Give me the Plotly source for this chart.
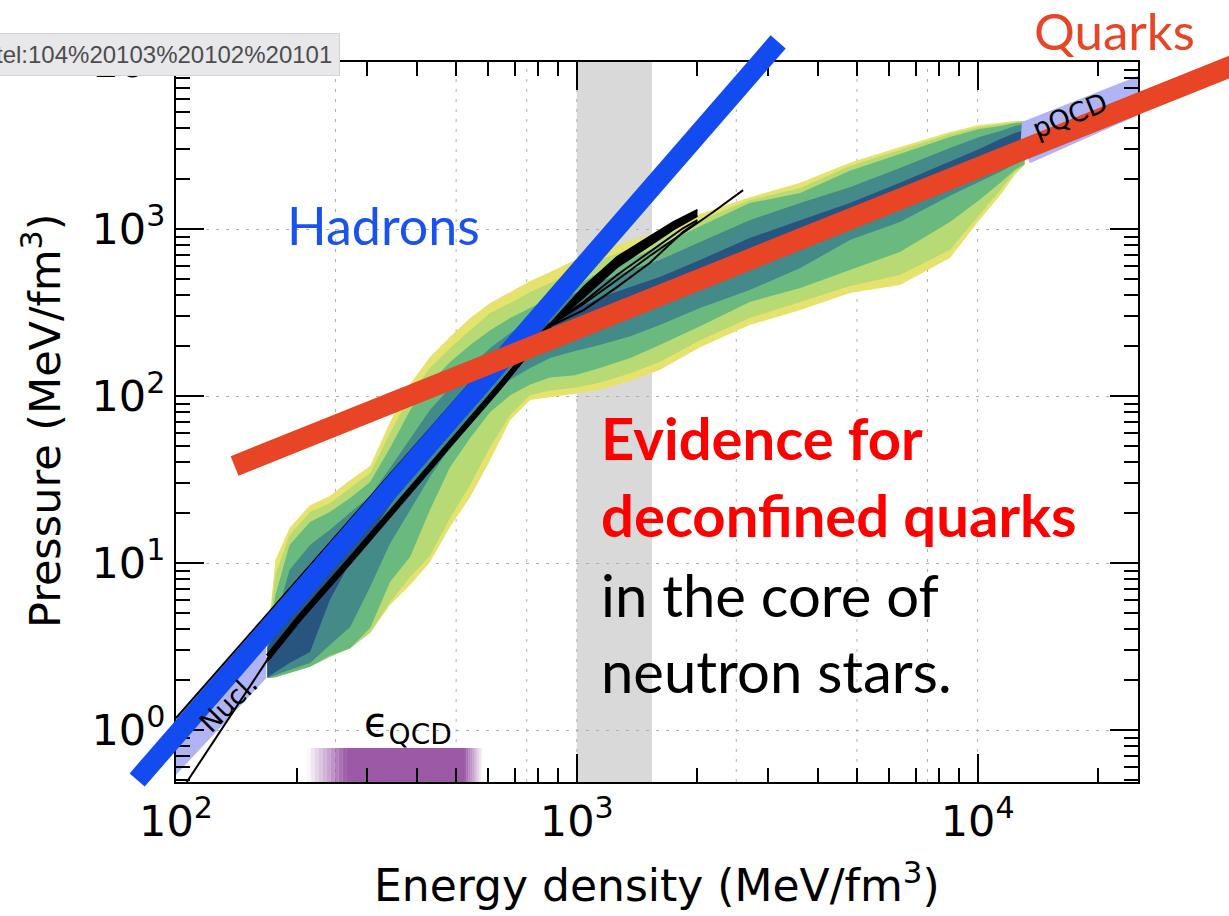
import math
import plotly.graph_objects as go

W, H = 1229, 916

# ---- data (energy density and pressure in MeV/fm^3) ----
eps_grid = [169, 177, 192, 216, 242, 272, 305, 342, 384, 430, 483, 542, 608, 682, 765,
            858, 990, 1140, 1360, 1610, 2030, 2700, 3610, 4800, 6400, 8530, 10100, 11400, 12400, 13100]

p_yellow_hi = [3.46, 10.4, 16.2, 22.2, 25.2, 31.4, 38.1, 69.9, 118, 171, 226, 293, 361, 420, 488,
               553, 652, 749, 847, 959, 1230, 1550, 1890, 2490, 3100, 3810, 4200, 4310, 4430, 4430]
p_lgreen_hi = [3.37, 8.47, 14.7, 20.2, 22.8, 28.2, 34.6, 60.1, 101, 147, 194, 248, 314, 361, 419,
               475, 553, 652, 759, 883, 1130, 1490, 1760, 2380, 2970, 3710, 4080, 4250, 4370, 4430]
p_green_hi = [3.27, 6.43, 12.8, 17.6, 20.2, 24.5, 30.5, 48.8, 82.5, 120, 160, 202, 248, 293, 336,
              387, 449, 553, 661, 791, 1040, 1430, 1640, 2230, 2810, 3560, 3970, 4140, 4310, 4370]
p_teal_hi = [3.19, 4.56, 9.08, 12.8, 15.8, 20.0, 25.2, 37.1, 56.0, 82.5, 112, 149, 194, 238, 285,
             346, 414, 482, 568, 652, 836, 1130, 1430, 1780, 2320, 3060, 3560, 3860, 4140, 4250]
p_dblue_hi = [3.09, 3.86, 6.70, 9.59, 12.3, 16.7, 22.0, 30.5, 43.2, 62.6, 86.0, 114, 149, 189, 228,
              277, 327, 387, 449, 516, 652, 883, 1130, 1430, 1890, 2520, 3010, 3460, 3760, 3920]

p_dblue_lo = [2.07, 2.23, 2.52, 2.93, 6.00, 10.1, 14.7, 22.2, 32.7, 49.5, 71.8, 97.2, 125, 157, 189,
              216, 248, 277, 318, 366, 443, 584, 749, 1010, 1340, 1830, 2200, 2520, 2740, 2890]
p_teal_lo = [2.05, 2.13, 2.29, 2.52, 3.23, 4.14, 7.18, 13.1, 20.8, 32.7, 49.5, 71.8, 98.6, 125, 147,
             169, 186, 202, 228, 266, 336, 431, 584, 859, 1100, 1580, 1910, 2200, 2450, 2590]
p_green_lo = [2.05, 2.07, 2.20, 2.39, 2.78, 3.09, 4.08, 7.69, 10.9, 20.8, 37.6, 56.0, 80.3, 101, 117,
              129, 133, 147, 169, 202, 262, 366, 443, 568, 729, 1100, 1490, 1890, 2260, 2450]
p_lgreen_lo = [2.05, 2.07, 2.20, 2.39, 2.74, 3.09, 3.81, 5.84, 8.24, 11.0, 18.6, 29.4, 49.5, 76.9, 101,
               108, 112, 120, 137, 160, 216, 293, 366, 455, 530, 749, 1210, 1710, 2200, 2420]
p_yellow_lo = [2.05, 2.07, 2.20, 2.39, 2.74, 3.09, 3.81, 5.60, 7.38, 10.1, 16.5, 24.8, 41.4, 71.8, 94.6,
               98.6, 103, 109, 123, 143, 196, 266, 327, 414, 462, 670, 1130, 1600, 2110, 2420]

# low-density nuclear band and high-density pQCD band (polygons)
nucl_eps = [91.2, 168, 168, 91.2]
nucl_p = [0.946, 4.69, 2.05, 0.425]
pqcd_eps = [12900, 26200, 26200, 13500, 12800]
pqcd_p = [4370, 8590, 5020, 2480, 3270]

# individual equations of state (black curves)
eosA_eps = [100, 796]
eosA_p = [1.18, 341]
eosB_eps = [104, 131, 169]
eosB_p = [0.449, 1.04, 2.63]
trunk_eps = [169, 204, 272, 362, 483, 644, 858]
trunk_p = [2.78, 4.88, 10.7, 23.8, 53.0, 118, 270]
trunk2_p = [2.62, 4.60, 10.1, 22.6, 50.4, 112, 262]
branch_eps = [858, 1040, 1260, 1520, 1740, 2000]
branch1_p = [270, 449, 680, 895, 1100, 1300]
branch2_p = [262, 390, 590, 800, 990, 1200]
branch3_eps = [858, 1040, 1260, 1520, 1840, 2000]
branch3_p = [266, 366, 530, 729, 1010, 1130]
branch4_p = [262, 327, 449, 626, 959, 1100]
branch5_eps = [858, 1040, 1260, 1520, 1840, 2190, 2600]
branch5_p = [266, 356, 495, 689, 946, 1265, 1710]

# hadronic and quark-matter trends (thick guide lines)
hadron_eps = [80, 3180]
hadron_p = [0.502, 13200]
quark_eps = [140, 45200]
quark_p = [38.1, 9920]

# energy-density window and eps_QCD range
gray_window = [1000, 1540]
qcd_solid = [267, 526]
qcd_fade = [212, 583]
qcd_bar_p = [0.30, 0.78]

x_ticks = [100, 1000, 10000]
x_ticktext = ["10<sup>2</sup>", "10<sup>3</sup>", "10<sup>4</sup>"]
y_ticks = [1, 10, 100, 1000, 10000]
y_ticktext = ["10<sup>0</sup>", "10<sup>1</sup>", "10<sup>2</sup>", "10<sup>3</sup>", "10<sup>4</sup>"]
x_minor = [200, 300, 400, 500, 600, 700, 800, 900,
           2000, 3000, 4000, 5000, 6000, 7000, 8000, 9000, 20000]
y_minor = [m * 10 ** k for k in range(-1, 4) for m in range(2, 10)]
x_grid = [250, 500, 750, 1000, 2500, 5000, 7500, 10000]

band_colors = ["#e6e26e", "#b7da74", "#6ab97f", "#448a88", "#27557f"]
bands = [(p_yellow_hi, p_yellow_lo), (p_lgreen_hi, p_lgreen_lo), (p_green_hi, p_green_lo),
         (p_teal_hi, p_teal_lo), (p_dblue_hi, p_dblue_lo)]

# ---- geometry of the plotting area (pixels) ----
L, R, T, B = 176, 1138, 62, 782
x_lo, x_hi = 2.0, 4.4002
y_lo, y_hi = -0.3114, 4.0
sx = (R - L) / (x_hi - x_lo)
sy = (B - T) / (y_hi - y_lo)

fig = go.Figure()


def rect(x0, x1, y0, y1, color):
    fig.add_trace(go.Scatter(x=[x0, x1, x1, x0, x0], y=[y0, y0, y1, y1, y0],
                             mode="lines", line=dict(width=0), fill="toself", fillcolor=color,
                             hoverinfo="skip", showlegend=False))


# eps_QCD bar: solid core with feathered ends
rect(qcd_solid[0], qcd_solid[1], qcd_bar_p[0], qcd_bar_p[1], "rgb(155,89,166)")
n_steps = 10
for side in (0, 1):
    a0, a1 = math.log10(qcd_solid[side]), math.log10(qcd_fade[side])
    for k in range(n_steps):
        e0 = 10 ** (a0 + (a1 - a0) * k / n_steps)
        e1 = 10 ** (a0 + (a1 - a0) * (k + 1) / n_steps)
        op = 1 - (k + 0.5) / n_steps
        rect(min(e0, e1), max(e0, e1), qcd_bar_p[0], qcd_bar_p[1], f"rgba(155,89,166,{op:.3f})")

# nested credible bands
for (hi, lo), col in zip(bands, band_colors):
    fig.add_trace(go.Scatter(
        x=eps_grid + eps_grid[::-1], y=hi + lo[::-1],
        mode="lines", line=dict(width=0), fill="toself", fillcolor=col,
        hoverinfo="skip", showlegend=False))

# Nucl. and pQCD limits
for ex, py in [(nucl_eps, nucl_p), (pqcd_eps, pqcd_p)]:
    fig.add_trace(go.Scatter(
        x=ex + ex[:1], y=py + py[:1], mode="lines", line=dict(width=0),
        fill="toself", fillcolor="#b0b4f4", hoverinfo="skip", showlegend=False))

# black equation-of-state curves (dense part filled)
fig.add_trace(go.Scatter(x=branch_eps, y=branch1_p, mode="lines",
                         line=dict(color="black", width=2), showlegend=False, hoverinfo="skip"))
fig.add_trace(go.Scatter(x=branch_eps, y=branch2_p, mode="lines", fill="tonexty", fillcolor="black",
                         line=dict(color="black", width=2), showlegend=False, hoverinfo="skip"))
curves = [(eosA_eps, eosA_p, 2), (eosB_eps, eosB_p, 2), (trunk_eps, trunk_p, 3.5),
          (trunk_eps, trunk2_p, 3.5), (branch3_eps, branch3_p, 2), (branch3_eps, branch4_p, 2),
          (branch5_eps, branch5_p, 2)]
for ex, py, w in curves:
    fig.add_trace(go.Scatter(x=ex, y=py, mode="lines", line=dict(color="black", width=w),
                             showlegend=False, hoverinfo="skip"))

# invisible placeholders so every tick-only overlay axis gets drawn
for xa, ya in [("x3", "y"), ("x4", "y"), ("x5", "y"), ("x", "y3"), ("x", "y4"), ("x", "y5")]:
    fig.add_trace(go.Scatter(x=[1000], y=[10], xaxis=xa, yaxis=ya, mode="markers",
                             marker=dict(size=1, opacity=0), showlegend=False, hoverinfo="skip"))

# thick guide lines on a full-figure axis pair (not clipped to the frame)
fig.add_trace(go.Scatter(x=hadron_eps, y=hadron_p, mode="lines", xaxis="x2", yaxis="y2",
                         line=dict(color="#124cf0", width=20), showlegend=False, hoverinfo="skip"))
fig.add_trace(go.Scatter(x=quark_eps, y=quark_p, mode="lines", xaxis="x2", yaxis="y2",
                         line=dict(color="#e84426", width=21), showlegend=False, hoverinfo="skip"))

fig.add_shape(type="rect", xref="x", yref="y domain", x0=gray_window[0], x1=gray_window[1],
              y0=0, y1=1, fillcolor="#d9d9d9", line=dict(width=0), layer="below")

# vertical dotted grid at 2.5/5/7.5/10 x 10^n
for g in x_grid:
    fig.add_shape(type="line", xref="x", yref="y domain", x0=g, x1=g, y0=0, y1=1,
                  line=dict(color="#b0b0b0", width=1, dash="3px,7px"), layer="below")

tick_font = dict(family="DejaVu Sans", size=43, color="black")
dom_x = [L / W, R / W]
dom_y = [(H - B) / H, (H - T) / H]
common = dict(type="log", automargin=False, zeroline=False, tickcolor="black", tickwidth=1.5,
              ticks="inside")
tick_only = dict(common, showticklabels=False, showline=False, showgrid=False, tickmode="array")

fig.update_layout(
    template="none",
    width=W, height=H, autosize=False,
    margin=dict(l=0, r=0, t=0, b=0, pad=0, autoexpand=False),
    paper_bgcolor="white", plot_bgcolor="rgba(0,0,0,0)",
    showlegend=False,
    font=dict(family="DejaVu Sans", color="black"),
    xaxis=dict(**common, range=[x_lo, x_hi], domain=dom_x, anchor="y", mirror=True,
               showline=True, linecolor="black", linewidth=2, ticklen=28,
               tickmode="array", tickvals=x_ticks, ticktext=x_ticktext, tickfont=tick_font,
               showgrid=False),
    yaxis=dict(**common, range=[y_lo, y_hi], domain=dom_y, anchor="x", mirror=True,
               showline=True, linecolor="black", linewidth=2, ticklen=28,
               tickmode="array", tickvals=y_ticks, ticktext=y_ticktext, tickfont=tick_font,
               showgrid=True, gridcolor="#b0b0b0", gridwidth=1, griddash="3px,7px"),
    # minor ticks bottom / major and minor ticks on the top edge
    xaxis3=dict(**tick_only, range=[x_lo, x_hi], overlaying="x", anchor="y", side="bottom",
                ticklen=14, tickvals=x_minor),
    xaxis4=dict(**tick_only, range=[x_lo, x_hi], overlaying="x", anchor="y", side="top",
                ticklen=28, tickvals=x_ticks),
    xaxis5=dict(**tick_only, range=[x_lo, x_hi], overlaying="x", anchor="y", side="top",
                ticklen=14, tickvals=x_minor),
    # minor ticks left / major and minor ticks on the right edge
    yaxis3=dict(**tick_only, range=[y_lo, y_hi], overlaying="y", anchor="x", side="left",
                ticklen=14, tickvals=y_minor),
    yaxis4=dict(**tick_only, range=[y_lo, y_hi], overlaying="y", anchor="x", side="right",
                ticklen=28, tickvals=y_ticks),
    yaxis5=dict(**tick_only, range=[y_lo, y_hi], overlaying="y", anchor="x", side="right",
                ticklen=14, tickvals=y_minor),
    xaxis2=dict(type="log", domain=[0, 1], anchor="y2", visible=False, automargin=False,
                range=[x_lo - L / sx, x_hi + (W - R) / sx]),
    yaxis2=dict(type="log", domain=[0, 1], anchor="x2", visible=False, automargin=False,
                range=[y_lo - (H - B) / sy, y_hi + T / sy]),
)


def ann(text, x, y, size, color="black", family="DejaVu Sans", xanchor="center",
        angle=0, bold=False, **kw):
    font = dict(family=family, size=size, color=color)
    if bold:
        font["weight"] = 700
    fig.add_annotation(text=text, x=x / W, y=1 - y / H, xref="paper", yref="paper",
                       xanchor=xanchor, yanchor="middle", showarrow=False, textangle=angle,
                       font=font, **kw)


ann("Energy density (MeV/fm<sup>3</sup>)", 657, 882, 44)
ann("Pressure (MeV/fm<sup>3</sup>)", 42, 421, 43, angle=-90)
ann("ϵ<sub>QCD</sub>", 408, 725, 40)
ann("Nucl.", 228, 703, 27, angle=-45)
ann("pQCD", 1070, 116, 27, angle=-22)

ann("Hadrons", 285, 225, 52, color="#1a52f0", family="Lato", xanchor="left")
ann("Quarks", 1032, 30, 51, color="#e84426", family="Lato", xanchor="left")
ann("Evidence for", 599, 437, 58, color="#ff0000", family="Lato", xanchor="left", bold=True)
ann("deconfined quarks", 599, 514, 58, color="#ff0000", family="Lato", xanchor="left", bold=True)
ann("in the core of", 599, 594, 58, family="Lato", xanchor="left")
ann("neutron stars.", 599, 670, 58, family="Lato", xanchor="left")

ann("tel:104%20103%20102%20101", 340, 55, 24, color="#4d4d4d", family="Liberation Sans",
    xanchor="right", bgcolor="#e8e8ea", bordercolor="#d4d4d4", borderwidth=1, borderpad=7)

fig.write_html("out.html")
